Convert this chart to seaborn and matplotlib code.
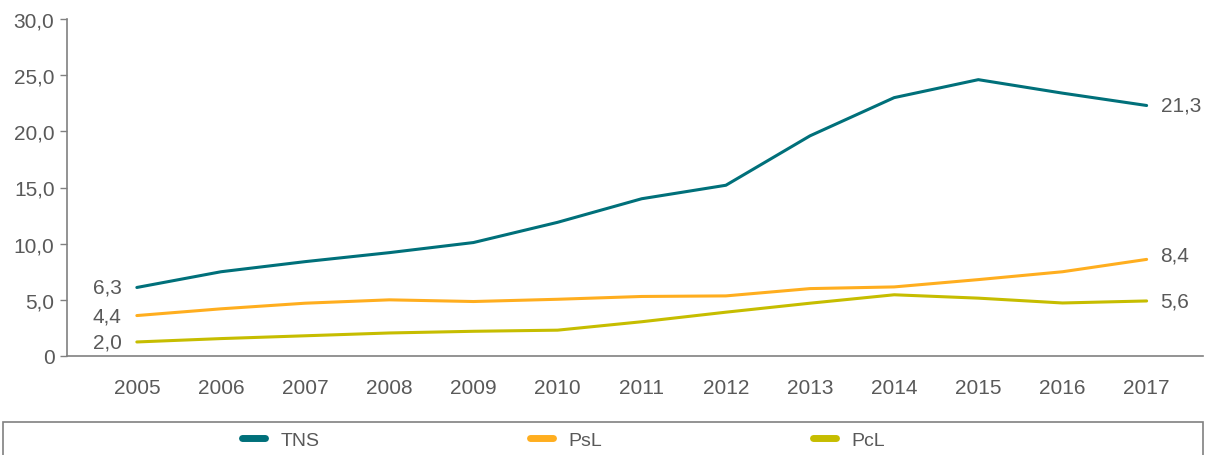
import matplotlib
matplotlib.use("Agg")
import matplotlib.pyplot as plt
import seaborn as sns
import pandas as pd
from matplotlib.lines import Line2D
from matplotlib.patches import Rectangle

years = [2005, 2006, 2007, 2008, 2009, 2010, 2011, 2012, 2013, 2014, 2015, 2016, 2017]
tns = [6.1, 7.5, 8.4, 9.2, 10.1, 11.9, 14.0, 15.2, 19.6, 23.0, 24.6, 23.4, 22.3]
psl = [3.6, 4.2, 4.7, 5.0, 4.85, 5.05, 5.3, 5.35, 6.0, 6.15, 6.8, 7.5, 8.6]
pcl = [1.25, 1.55, 1.8, 2.05, 2.2, 2.3, 3.05, 3.9, 4.7, 5.45, 5.15, 4.72, 4.9]
series_names = ["TNS", "PsL", "PcL"]
start_labels = ["6,3", "4,4", "2,0"]
end_labels = ["21,3", "8,4", "5,6"]
yticks = [0, 5, 10, 15, 20, 25, 30]
ytick_labels = ["0", "5,0", "10,0", "15,0", "20,0", "25,0", "30,0"]

colors = {"TNS": "#00707a", "PsL": "#ffae1f", "PcL": "#c6bd00"}
text_color = "#595959"
axis_color = "#808080"

sns.set_style("white")
plt.rcParams["font.family"] = ["Liberation Sans", "DejaVu Sans"]

values = {"TNS": tns, "PsL": psl, "PcL": pcl}
df = pd.DataFrame(
    [(y, name, v) for name in series_names for y, v in zip(years, values[name])],
    columns=["year", "series", "value"],
)

fig = plt.figure(figsize=(12.07, 4.56), dpi=100)
ax = fig.add_axes([67 / 1207, 1 - 357 / 456, (1203 - 67) / 1207, (357 - 20) / 456])

sns.lineplot(data=df, x="year", y="value", hue="series", palette=colors,
             linewidth=2.2, ax=ax, legend=False, sort=False)

ax.set_xlim(2004.17, 2017.67)
ax.set_ylim(0, 30)
ax.set_xticks(years)
ax.set_xticklabels([str(y) for y in years])
ax.set_yticks(yticks)
ax.set_yticklabels(ytick_labels)
ax.set_xlabel("")
ax.set_ylabel("")

for s in ["top", "right"]:
    ax.spines[s].set_visible(False)
for s in ["left", "bottom"]:
    ax.spines[s].set_color(axis_color)
    ax.spines[s].set_linewidth(1.2)

ax.tick_params(axis="y", which="both", left=True, length=5, width=1, color=axis_color,
               labelsize=15, labelcolor=text_color, pad=4)
ax.tick_params(axis="x", which="both", bottom=False, labelsize=15, labelcolor=text_color, pad=12)

for name, sl, el in zip(series_names, start_labels, end_labels):
    v = values[name]
    ax.annotate(sl, xy=(years[0], v[0]), xytext=(-11, 0), textcoords="offset points",
                ha="right", va="center", fontsize=15, color=text_color)
    dy = 3 if name == "PsL" else 0
    ax.annotate(el, xy=(years[-1], v[-1]), xytext=(10, dy), textcoords="offset points",
                ha="left", va="center", fontsize=15, color=text_color)

# legend box
fig.patches.append(Rectangle((3 / 1207, -0.05), 1200 / 1207, 0.05 + (456 - 423) / 456,
                             transform=fig.transFigure, fill=False,
                             edgecolor=axis_color, linewidth=1.2))
handles = [Line2D([0], [0], color=colors[n], linewidth=5, solid_capstyle="round") for n in series_names]
leg = fig.legend(handles, series_names, loc="center left",
                 bbox_to_anchor=(242 / 1207, 1 - 441 / 456), ncol=3, frameon=False,
                 fontsize=14, handlelength=1.2, handletextpad=0.8, columnspacing=10.8,
                 borderaxespad=0, borderpad=0)
for t in leg.get_texts():
    t.set_color(text_color)

fig.savefig("out.png", dpi=100)
